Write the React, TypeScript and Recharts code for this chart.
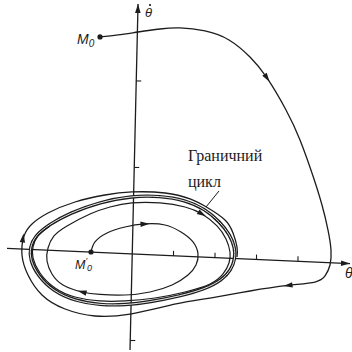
import React from 'react';
import { ComposedChart, Line, Scatter, XAxis, YAxis } from 'recharts';

type Pt = { x: number; y: number };

// x = θ, y = θ̇ (one unit = one tick)

// trajectory from M0, winding onto the cycle from outside
const outerPath: Pt[] = [
  { x: -0.771, y: 2.509 }, { x: -0.337, y: 2.532 }, { x: 0.145, y: 2.566 }, { x: 0.675, y: 2.601 },
  { x: 1.157, y: 2.613 }, { x: 1.759, y: 2.578 }, { x: 2.337, y: 2.474 }, { x: 2.843, y: 2.277 },
  { x: 3.253, y: 2.035 }, { x: 3.711, y: 1.665 }, { x: 4.048, y: 1.318 }, { x: 4.361, y: 0.902 },
  { x: 4.578, y: 0.566 }, { x: 4.723, y: 0.277 }, { x: 4.795, y: 0.046 }, { x: 4.771, y: -0.127 },
  { x: 4.651, y: -0.254 }, { x: 4.41, y: -0.324 }, { x: 3.759, y: -0.364 }, { x: 2.843, y: -0.428 },
  { x: 1.88, y: -0.509 }, { x: 1.06, y: -0.578 }, { x: -0.048, y: -0.694 }, { x: -0.892, y: -0.717 },
  { x: -1.614, y: -0.636 }, { x: -2.169, y: -0.474 }, { x: -2.506, y: -0.243 }, { x: -2.651, y: -0.012 },
  { x: -2.602, y: 0.208 }, { x: -2.41, y: 0.347 }, { x: -2.024, y: 0.474 }, { x: -1.373, y: 0.601 },
  { x: -0.651, y: 0.682 }, { x: 0, y: 0.717 }, { x: 0.795, y: 0.705 }, { x: 1.398, y: 0.636 },
  { x: 1.831, y: 0.532 }, { x: 2.241, y: 0.393 }, { x: 2.434, y: 0.243 }, { x: 2.53, y: 0.081 },
  { x: 2.53, y: -0.035 },
];

// trajectory from M0', winding onto the cycle from inside
const innerPath: Pt[] = [
  { x: -0.988, y: 0.023 }, { x: -0.892, y: 0.139 }, { x: -0.602, y: 0.243 }, { x: -0.169, y: 0.312 },
  { x: 0.313, y: 0.347 }, { x: 0.795, y: 0.335 }, { x: 1.181, y: 0.254 }, { x: 1.47, y: 0.139 },
  { x: 1.59, y: 0 }, { x: 1.542, y: -0.127 }, { x: 1.349, y: -0.243 }, { x: 0.964, y: -0.358 },
  { x: 0.434, y: -0.439 }, { x: -0.169, y: -0.474 }, { x: -0.771, y: -0.468 }, { x: -1.205, y: -0.439 },
  { x: -1.663, y: -0.358 }, { x: -1.928, y: -0.231 }, { x: -2.048, y: -0.081 }, { x: -2.024, y: 0.069 },
  { x: -1.88, y: 0.208 }, { x: -1.566, y: 0.324 }, { x: -1.012, y: 0.462 }, { x: -0.53, y: 0.543 },
  { x: 0, y: 0.59 }, { x: 0.675, y: 0.59 }, { x: 1.277, y: 0.543 }, { x: 1.687, y: 0.462 },
  { x: 2.048, y: 0.324 }, { x: 2.265, y: 0.173 }, { x: 2.361, y: 0.023 }, { x: 2.337, y: -0.104 },
  { x: 2.193, y: -0.231 }, { x: 1.88, y: -0.347 }, { x: 1.277, y: -0.439 }, { x: 0.554, y: -0.509 },
  { x: -0.169, y: -0.543 }, { x: -0.771, y: -0.543 }, { x: -1.373, y: -0.497 }, { x: -1.855, y: -0.393 },
  { x: -2.217, y: -0.22 }, { x: -2.386, y: -0.046 }, { x: -2.386, y: 0.081 }, { x: -2.265, y: 0.208 },
  { x: -1.976, y: 0.324 },
];

// the limit cycle itself (closed)
const cyclePath: Pt[] = [
  { x: 0, y: 0.671 }, { x: 0.675, y: 0.671 }, { x: 1.277, y: 0.624 }, { x: 1.759, y: 0.52 },
  { x: 2.12, y: 0.37 }, { x: 2.361, y: 0.22 }, { x: 2.482, y: 0.069 }, { x: 2.482, y: -0.058 },
  { x: 2.386, y: -0.185 }, { x: 2.169, y: -0.301 }, { x: 1.759, y: -0.405 }, { x: 1.157, y: -0.486 },
  { x: 0.434, y: -0.555 }, { x: -0.169, y: -0.59 }, { x: -0.771, y: -0.59 }, { x: -1.373, y: -0.543 },
  { x: -1.904, y: -0.428 }, { x: -2.265, y: -0.254 }, { x: -2.458, y: -0.069 }, { x: -2.458, y: 0.081 },
  { x: -2.337, y: 0.208 }, { x: -2.024, y: 0.335 }, { x: -1.494, y: 0.474 }, { x: -0.771, y: 0.601 },
];

const thetaAxis: Pt[] = [{ x: -3.012, y: 0.064 }, { x: 5.253, y: -0.111 }];
const omegaAxis: Pt[] = [{ x: -0.048, y: -1.11 }, { x: 0.145, y: 2.89 }];
const thetaTicks: Pt[] = [{ x: 1, y: -0.021 }, { x: 2, y: -0.043 }, { x: 3, y: -0.064 }, { x: 4, y: -0.085 }];
const omegaTicks: Pt[] = [{ x: 0.101, y: 2 }, { x: 0.053, y: 1 }, { x: -0.041, y: -1 }];

// direction marks along the trajectories (angle in screen degrees)
const flowArrows = [
  { x: 3.253, y: 2.035, angle: 56 },
  { x: 3.759, y: -0.364, angle: 172 },
  { x: -2.627, y: 0.185, angle: -82 },
  { x: 0.313, y: 0.347, angle: -3 },
  { x: -1.205, y: -0.439, angle: 194 },
  { x: 1.687, y: 0.462, angle: 31 },
];
const axisHeads = [
  { x: 5.253, y: -0.111, angle: 2.5 },
  { x: 0.145, y: 2.89, angle: -88.7 },
];

const startPoints: Pt[] = [outerPath[0], innerPath[0]];
const callout: Pt[] = [{ x: 2.096, y: 0.728 }, { x: 1.783, y: 0.543 }];

const ink = '#1c1c1c';
const sans = 'Liberation Sans, Arial, sans-serif';
const serif = 'Liberation Serif, Times New Roman, serif';

const FlowArrow = (p: any) => (
  <polygon
    points="4.5,0 -4.5,-2.7 -4.5,2.7"
    transform={`translate(${p.cx},${p.cy}) rotate(${p.payload.angle})`}
    fill={ink}
  />
);

const AxisHead = (p: any) => (
  <polygon
    points="0,0 -9,-2.8 -9,2.8"
    transform={`translate(${p.cx},${p.cy}) rotate(${p.payload.angle})`}
    fill={ink}
  />
);

const UpTick = (p: any) => <line x1={p.cx} y1={p.cy} x2={p.cx} y2={p.cy - 5} stroke={ink} strokeWidth={1.1} />;
const RightTick = (p: any) => <line x1={p.cx} y1={p.cy} x2={p.cx + 5} y2={p.cy} stroke={ink} strokeWidth={1.1} />;
const StartDot = (p: any) => <circle cx={p.cx} cy={p.cy} r={2.6} fill={ink} />;

const M0Label = (p: any) => (
  <text x={p.cx - 23} y={p.cy + 7} fontFamily={sans} fontStyle="italic" fontSize={14} fill={ink}>
    M<tspan fontSize={10} dy={3}>0</tspan>
  </text>
);

const M0PrimeLabel = (p: any) => (
  <text x={p.cx - 16} y={p.cy + 17} fontFamily={sans} fontStyle="italic" fontSize={12.5} fill={ink}>
    M<tspan fontSize={9} dy={-5}>′</tspan>
    <tspan fontSize={9} dy={7}>0</tspan>
  </text>
);

const OmegaLabel = (p: any) => (
  <g>
    <text x={p.cx + 7} y={p.cy + 13} fontFamily={sans} fontStyle="italic" fontSize={13} fill={ink}>θ</text>
    <circle cx={p.cx + 12} cy={p.cy + 1} r={1.1} fill={ink} />
  </g>
);

const ThetaLabel = (p: any) => (
  <text x={p.cx - 5} y={p.cy + 14} fontFamily={sans} fontStyle="italic" fontSize={14} fill={ink}>θ</text>
);

const CycleLabel = (p: any) => (
  <text fontFamily={serif} fontSize={16} fill={ink}>
    <tspan x={p.cx - 31} y={p.cy - 30}>Граничний</tspan>
    <tspan x={p.cx - 31} y={p.cy - 4}>цикл</tspan>
  </text>
);

export default function App() {
  return (
    <div style={{ position: 'absolute', left: 0, top: 0, background: '#fff' }}>
      <ComposedChart width={352} height={352} margin={{ top: 0, right: 0, bottom: 0, left: 0 }}>
        <XAxis type="number" dataKey="x" domain={[-3.181, 5.301]} allowDataOverflow hide />
        <YAxis type="number" dataKey="y" domain={[-1.133, 2.936]} allowDataOverflow hide />

        <Line data={thetaAxis} dataKey="y" type="linear" stroke={ink} strokeWidth={1.2} dot={false} activeDot={false} isAnimationActive={false} />
        <Line data={omegaAxis} dataKey="y" type="linear" stroke={ink} strokeWidth={1.3} dot={false} activeDot={false} isAnimationActive={false} />

        <Line data={cyclePath} dataKey="y" type="basisClosed" stroke={ink} strokeWidth={3.4} dot={false} activeDot={false} isAnimationActive={false} />
        <Line data={cyclePath} dataKey="y" type="basisClosed" stroke="#fff" strokeWidth={0.9} dot={false} activeDot={false} isAnimationActive={false} />

        <Line data={outerPath} dataKey="y" type="natural" stroke={ink} strokeWidth={1.3} dot={false} activeDot={false} isAnimationActive={false} />
        <Line data={innerPath} dataKey="y" type="natural" stroke={ink} strokeWidth={1.2} dot={false} activeDot={false} isAnimationActive={false} />
        <Line data={callout} dataKey="y" type="linear" stroke={ink} strokeWidth={1} dot={false} activeDot={false} isAnimationActive={false} />

        <Scatter data={thetaTicks} dataKey="y" shape={UpTick} isAnimationActive={false} />
        <Scatter data={omegaTicks} dataKey="y" shape={RightTick} isAnimationActive={false} />
        <Scatter data={flowArrows} dataKey="y" shape={FlowArrow} isAnimationActive={false} />
        <Scatter data={axisHeads} dataKey="y" shape={AxisHead} isAnimationActive={false} />
        <Scatter data={startPoints} dataKey="y" shape={StartDot} isAnimationActive={false} />

        <Scatter data={[startPoints[0]]} dataKey="y" shape={M0Label} isAnimationActive={false} />
        <Scatter data={[startPoints[1]]} dataKey="y" shape={M0PrimeLabel} isAnimationActive={false} />
        <Scatter data={[omegaAxis[1]]} dataKey="y" shape={OmegaLabel} isAnimationActive={false} />
        <Scatter data={[thetaAxis[1]]} dataKey="y" shape={ThetaLabel} isAnimationActive={false} />
        <Scatter data={[callout[0]]} dataKey="y" shape={CycleLabel} isAnimationActive={false} />
      </ComposedChart>
    </div>
  );
}
